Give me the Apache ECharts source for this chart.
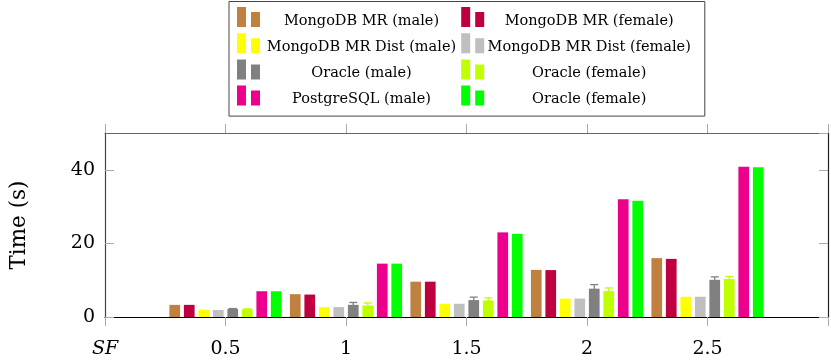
<!DOCTYPE html>
<html><head><meta charset="utf-8">
<script src="https://cdn.jsdelivr.net/npm/echarts@6/dist/echarts.min.js"></script>
<style>html,body{margin:0;padding:0;background:#fff}#c{width:831px;height:361px}</style>
</head><body><div id="c"></div>
<script>
// ---- data ----
const sfValues = [0.5, 1, 1.5, 2, 2.5];
const xTickLabels = ['SF', '0.5', '1', '1.5', '2', '2.5', ''];
const yTickValues = [0, 20, 40];
const seriesNames = ['MongoDB MR (male)', 'MongoDB MR (female)', 'MongoDB MR Dist (male)', 'MongoDB MR Dist (female)',
  'Oracle (male)', 'Oracle (female)', 'PostgreSQL (male)', 'Oracle (female)'];
const mongoMale = [3.3, 6.2, 9.6, 12.8, 16.0];
const mongoFemale = [3.3, 6.1, 9.6, 12.75, 15.8];
const distMale = [2.0, 2.7, 3.6, 5.0, 5.5];
const distFemale = [1.9, 2.7, 3.6, 5.0, 5.5];
const oracleMale = [2.2, 3.3, 4.6, 7.7, 10.1];
const oracleMaleErr = [0.1, 0.65, 0.8, 1.1, 0.8];
const oracleFemale = [2.1, 3.15, 4.5, 7.05, 10.3];
const oracleFemaleErr = [0.1, 0.65, 0.7, 0.85, 0.7];
const postgresMale = [7.0, 14.5, 23.0, 32.0, 40.8];
const oracleFemale2 = [7.0, 14.5, 22.6, 31.6, 40.7];
const colors = ['#BF8040', '#BF0040', '#FFFF00', '#BFBFBF', '#808080', '#BFFF00', '#EC008C', '#00FF00'];

const allValues = [mongoMale, mongoFemale, distMale, distFemale, oracleMale, oracleFemale, postgresMale, oracleFemale2];
const errors = { 4: oracleMaleErr, 5: oracleFemaleErr };

// ---- layout constants ----
const FONT = 'DejaVu Serif';
const BAR_W = 10.7;
const BAR_GAP_PX = 3.8;
const STEP = BAR_W + BAR_GAP_PX;
const N = allValues.length;

const uid = i => seriesNames[i] + '#' + i;

const series = [];
allValues.forEach((vals, i) => {
  series.push({
    type: 'bar', name: uid(i),
    data: sfValues.map((x, j) => [x, vals[j]]),
    barWidth: BAR_W, barGap: (BAR_GAP_PX / BAR_W * 100).toFixed(1) + '%',
    itemStyle: { color: colors[i] },
    emphasis: { disabled: true }
  });
});
Object.keys(errors).forEach(k => {
  const i = +k;
  const errs = errors[i];
  series.push({
    type: 'custom', silent: true, z: 5,
    data: sfValues.map((x, j) => [x, allValues[i][j], errs[j]]),
    renderItem: function (params, api) {
      const x = api.value(0), y = api.value(1), e = api.value(2);
      const hi = api.coord([x, y + e]);
      const lo = api.coord([x, y - e]);
      const cx = hi[0] + (i - (N - 1) / 2) * STEP;
      const hc = 4;
      const st = { stroke: colors[i], lineWidth: 1.3 };
      return { type: 'group', children: [
        { type: 'line', shape: { x1: cx, y1: hi[1], x2: cx, y2: lo[1] }, style: st },
        { type: 'line', shape: { x1: cx - hc, y1: hi[1], x2: cx + hc, y2: hi[1] }, style: st },
        { type: 'line', shape: { x1: cx - hc, y1: lo[1], x2: cx + hc, y2: lo[1] }, style: st }
      ]};
    }
  });
});

const legendOrder = [0, 2, 4, 6, 1, 3, 5, 7];

const option = {
  animation: false,
  backgroundColor: '#fff',
  grid: { left: 105, right: 1, top: 133, bottom: 44 },
  legend: {
    data: legendOrder.map(uid),
    orient: 'vertical',
    left: 229, top: 1.5, height: 118,
    padding: [4, 14, 9, 8],
    borderColor: '#444', borderWidth: 1,
    itemGap: 3.2, itemWidth: 23, itemHeight: 20, itemTextGap: 5,
    icon: 'path://M0,0H9V20H0Z M14,5H23V20H14Z',
    selectedMode: false,
    formatter: function (name) {
      const i = +name.split('#').pop();
      return '{' + (i % 2 === 0 ? 'a' : 'b') + '|' + seriesNames[i] + '}';
    },
    textStyle: {
      fontFamily: FONT, fontSize: 14.5, color: '#000', lineHeight: 10,
      rich: {
        a: { width: 193, align: 'center', padding: [8, 0, 0, 0], lineHeight: 10, fontFamily: FONT, fontSize: 14.5, color: '#000' },
        b: { width: 200, align: 'center', padding: [8, 0, 0, 0], lineHeight: 10, fontFamily: FONT, fontSize: 14.5, color: '#000' }
      }
    }
  },
  xAxis: [
    {
      type: 'value', position: 'bottom', min: 0, max: 3, interval: 0.5,
      axisLine: { show: true, onZero: false, lineStyle: { color: '#000', width: 1.2 } },
      axisTick: { show: true, inside: false, length: 9, lineStyle: { color: '#aaa' } },
      splitLine: { show: false },
      axisLabel: {
        margin: 23, color: '#000', fontFamily: FONT, fontSize: 19,
        formatter: function (v) {
          const idx = Math.round(v / 0.5);
          const t = xTickLabels[idx] || '';
          return idx === 0 ? '{it|' + t + '}' : t;
        },
        rich: { it: { fontStyle: 'italic', fontFamily: FONT, fontSize: 19, color: '#000' } }
      }
    },
    {
      type: 'value', position: 'top', min: 0, max: 3, interval: 0.5,
      axisLine: { show: true, onZero: false, lineStyle: { color: '#666', width: 1.2 } },
      axisTick: { show: true, inside: false, length: 9, lineStyle: { color: '#aaa' } },
      splitLine: { show: false }, axisLabel: { show: false }
    }
  ],
  yAxis: [
    {
      type: 'value', position: 'left', min: 0, max: 50, interval: 20,
      name: 'Time (s)', nameLocation: 'middle', nameGap: 75,
      nameTextStyle: { fontFamily: FONT, fontSize: 21.5, color: '#000' },
      axisLine: { show: true, onZero: false, lineStyle: { color: '#444', width: 1.2 } },
      axisTick: { show: true, inside: true, length: 9, lineStyle: { color: '#aaa' } },
      splitLine: { show: false },
      axisLabel: {
        margin: 10, color: '#000', fontFamily: FONT, fontSize: 19, showMaxLabel: false,
        padding: [9, 0, 0, 0],
        formatter: v => (yTickValues.indexOf(v) >= 0 ? String(v) : '')
      }
    },
    {
      type: 'value', position: 'right', min: 0, max: 50, interval: 20,
      axisLine: { show: true, onZero: false, lineStyle: { color: '#222', width: 1.2 } },
      axisTick: { show: true, inside: true, length: 9, lineStyle: { color: '#aaa' } },
      splitLine: { show: false }, axisLabel: { show: false }
    }
  ],
  series: series
};

const chart = echarts.init(document.getElementById('c'), null, { renderer: 'canvas' });
chart.setOption(option);
</script>
</body></html>
